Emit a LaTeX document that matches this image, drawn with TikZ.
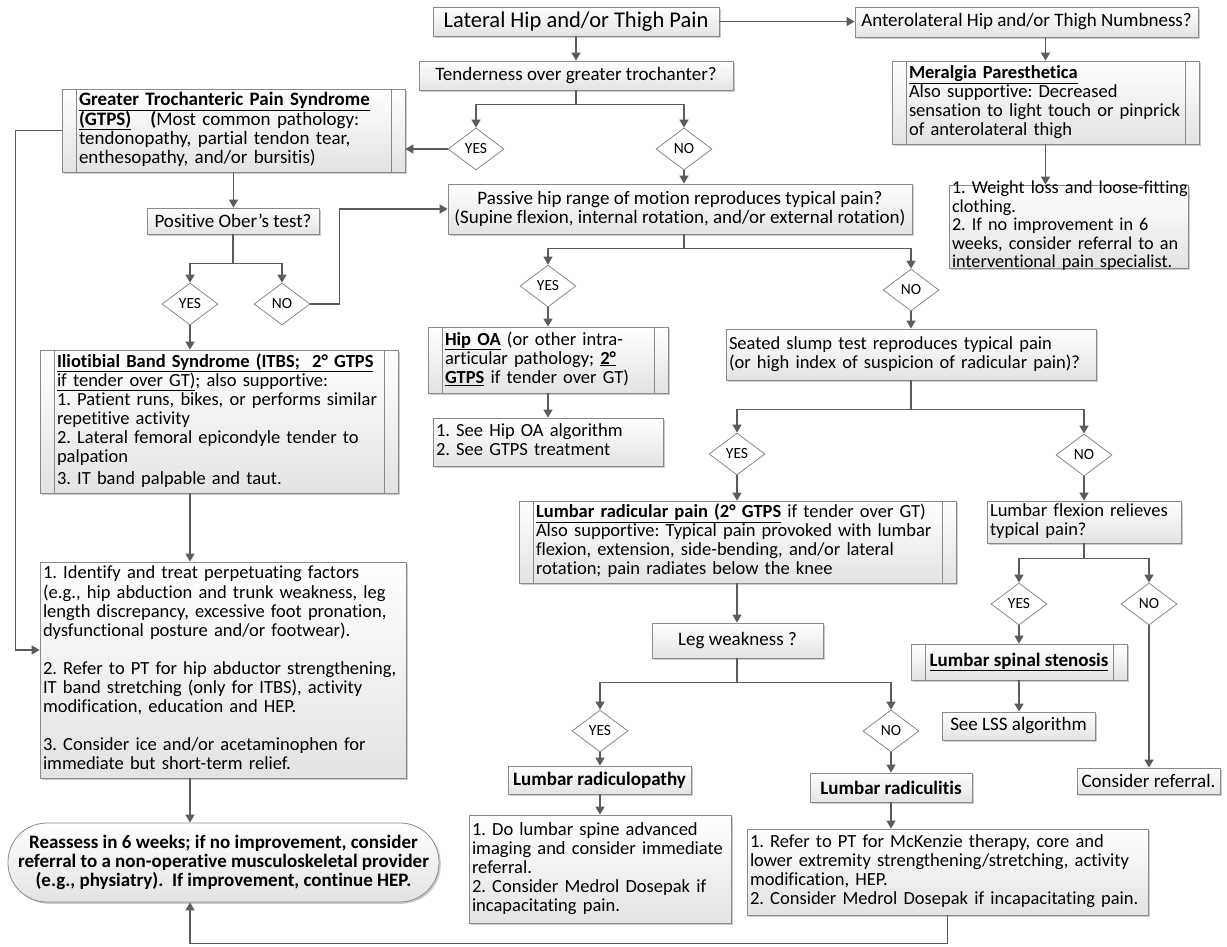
\documentclass[tikz,border=0pt]{standalone}
\usepackage{fontspec}
\setmainfont{Carlito}[Ligatures=NoCommon]
\usetikzlibrary{arrows.meta,shapes.geometric,shadows}

\definecolor{linec}{HTML}{5C5C5C}
\definecolor{edgec}{HTML}{8A8A8A}
\definecolor{shadec}{HTML}{E3E3E3}

\newcommand\bodysize{\fontsize{19}{19}\selectfont}
\newcommand\leftsize{\fontsize{18.5}{19}\selectfont}
\newcommand\titlesize{\fontsize{22.5}{24}\selectfont}
\newcommand\tagsize{\fontsize{15.5}{17}\selectfont}
% left-aligned block of explicit lines, centred vertically, not counted in the box size
\newcommand\lines[1]{\noindent\smash{\raisebox{-4.75pt}{\begin{tabular}{@{}l@{}}#1\end{tabular}}}}

\tikzset{
  bx/.style={draw=edgec, line width=0.8pt, top color=white, bottom color=shadec,
    inner xsep=3pt, inner ysep=0pt, font=\leftsize, align=left,
    drop shadow={shadow xshift=1.8pt, shadow yshift=-1.8pt, fill=black, opacity=0.2}},
  ctr/.style={bx, align=center, font=\bodysize},
  pp/.style={bx, inner xsep=17pt, path picture={
      \draw[edgec, line width=0.8pt]
        ([xshift=14pt]path picture bounding box.north west) -- ([xshift=14pt]path picture bounding box.south west)
        ([xshift=-14pt]path picture bounding box.north east) -- ([xshift=-14pt]path picture bounding box.south east);}},
  dia/.style={diamond, draw=edgec, line width=0.8pt, fill=white, minimum width=56pt,
    minimum height=42pt, inner sep=0pt, font=\tagsize},
  conn/.style={draw=linec, line width=1.5pt, -{Triangle[length=8pt,width=9pt]}},
  endbox/.style={bx, align=center, rounded corners=39pt, font=\bodysize\bfseries}
}

\begin{document}
\frenchspacing
\begin{tikzpicture}[x=1pt,y=-1pt]
\fill[white] (0,0) rectangle (1227,946);
\useasboundingbox (0,0) rectangle (1227,946);

% ---------- top row ----------
\node[ctr, font=\titlesize, minimum width=286, minimum height=29] (title) at (576,21.5) {Lateral Hip and/or Thigh Pain};
\node[ctr, minimum width=343, minimum height=30] (antero) at (1026.5,22) {Anterolateral Hip and/or Thigh Numbness?};
\node[ctr, minimum width=314, minimum height=29] (tender) at (576,75.5) {Tenderness over greater trochanter?};

\node[pp, minimum width=307, minimum height=83, text width=273] (meral) at (1045.5,102.5) {\lines{%
\underline{\textbf{Meralgia Paresthetica}}\\
Also supportive: Decreased\\
sensation to light touch or pinprick\\
of anterolateral thigh}};
\node[bx, font=\fontsize{18.2}{18.6}\selectfont, minimum width=239, minimum height=83, text width=233] (weight) at (1068.5,226.5) {\lines{%
1. Weight loss and loose-fitting\\
clothing.\\
2. If no improvement in 6\\
weeks, consider referral to an\\
interventional pain specialist.}};

% ---------- left branch ----------
\node[dia] (yes1) at (476,149) {YES};
\node[dia] (no1) at (684,149) {NO};
\node[pp, font=\bodysize, minimum width=343, minimum height=83, text width=309] (gtps) at (233.5,130.5) {\lines{%
\underline{\textbf{Greater Trochanteric Pain Syndrome}}\\
\underline{\textbf{(GTPS)}}\quad\textbf{(}Most common pathology:\\
tendonopathy, partial tendon tear,\\
enthesopathy, and/or bursitis)}};
\node[ctr, minimum width=172, minimum height=26] (ober) at (233,221) {Positive Ober’s test?};
\node[dia] (yes2) at (190,304) {YES};
\node[dia] (no2) at (282,304) {NO};
\node[pp, minimum width=358, minimum height=143, text width=324] (itbs) at (219,421.5) {\lines{%
\underline{\textbf{Iliotibial Band Syndrome (ITBS;\ \ 2° GTPS}}\\
\underline{if tender over GT)}; also supportive:\\
1. Patient runs, bikes, or performs similar\\
repetitive activity\\
2. Lateral femoral epicondyle tender to\\
palpation\\[3pt]
3. IT band palpable and taut.}};
\node[bx, minimum width=366, minimum height=216, text width=360] (treat) at (223,670) {\lines{%
1. Identify and treat perpetuating factors\\
(e.g., hip abduction and trunk weakness, leg\\
length discrepancy, excessive foot pronation,\\
dysfunctional posture and/or footwear).\\
\\
2. Refer to PT for hip abductor strengthening,\\
IT band stretching (only for ITBS), activity\\
modification, education and HEP.\\
\\
3. Consider ice and/or acetaminophen for\\
immediate but short-term relief.}};
\node[endbox, minimum width=431, minimum height=79] (reassess) at (223.5,862.5) {%
Reassess in 6 weeks; if no improvement, consider\\
referral to a non-operative musculoskeletal provider\\
(e.g., physiatry).\ \ If improvement, continue HEP.};

% ---------- middle branch ----------
\node[ctr, minimum width=464, minimum height=50] (passive) at (680,209) {%
Passive hip range of motion reproduces typical pain?\\
(Supine flexion, internal rotation, and/or external rotation)};
\node[dia] (yes3) at (548,286) {YES};
\node[dia] (no3) at (911,290) {NO};
\node[pp, minimum width=240, minimum height=66, text width=206] (hipoa) at (548,360) {\lines{%
\underline{\textbf{Hip OA}} (or other intra-\\
articular pathology; \underline{\textbf{2°}}\\
\underline{\textbf{GTPS}} if tender over GT)}};
\node[bx, minimum width=230, minimum height=48, text width=224] (hipoatx) at (548,442) {\lines{%
1. See Hip OA algorithm\\
2. See GTPS treatment}};
\node[bx, minimum width=370, minimum height=51, text width=364] (seated) at (911,354.5) {\lines{%
Seated slump test reproduces typical pain\\
(or high index of suspicion of radicular pain)?}};
\node[dia] (yes4) at (737,454) {YES};
\node[dia] (no4) at (1084,455) {NO};
\node[pp, minimum width=437, minimum height=82, text width=403] (radic) at (737.5,542) {\lines{%
\underline{\textbf{Lumbar radicular pain (2° GTPS}} if tender over GT)\\
Also supportive: Typical pain provoked with lumbar\\
flexion, extension, side-bending, and/or lateral\\
rotation; pain radiates below the knee}};
\node[ctr, minimum width=171, minimum height=35] (leg) at (737.5,640.5) {Leg weakness ?};
\node[dia] (yes6) at (600,731) {YES};
\node[dia] (no6) at (891,731) {NO};
\node[ctr, font=\bodysize\bfseries, minimum width=183, minimum height=28] (rpathy) at (599.5,780) {Lumbar radiculopathy};
\node[bx, minimum width=262, minimum height=108, text width=256] (rpathytx) at (600,869) {\lines{%
1. Do lumbar spine advanced\\
imaging and consider immediate\\
referral.\\
2. Consider Medrol Dosepak if\\
incapacitating pain.}};
\node[ctr, font=\bodysize\bfseries, minimum width=162, minimum height=29] (ritis) at (891,787.5) {Lumbar radiculitis};
\node[bx, minimum width=401, minimum height=86, text width=395] (ritistx) at (947.5,872) {\lines{%
1. Refer to PT for McKenzie therapy, core and\\
lower extremity strengthening/stretching, activity\\
modification, HEP.\\
2. Consider Medrol Dosepak if incapacitating pain.}};

% ---------- right branch ----------
\node[bx, minimum width=194, minimum height=42, text width=188] (flex) at (1084,522) {\lines{%
Lumbar flexion relieves\\
typical pain?}};
\node[dia] (yes5) at (1019,604) {YES};
\node[dia] (no5) at (1149,604) {NO};
\node[pp, align=center, font=\bodysize, minimum width=216, minimum height=36] (lss) at (1019,662) {\underline{\textbf{Lumbar spinal stenosis}}};
\node[ctr, minimum width=153, minimum height=28] (lsstx) at (1018.5,726) {See LSS algorithm};
\node[ctr, minimum width=143, minimum height=26] (refer) at (1148.5,781) {Consider referral.};

% ---------- connectors ----------
\draw[conn] (title.east) -- (title.east -| antero.west);
\draw[conn] (meral.north |- antero.south) -- (meral.north);
\draw[conn] (meral.south) -- (meral.south |- weight.north);
\draw[conn] (title.south) -- (tender.north);
\draw[conn] (tender.south) -- ++(0,14) -| (yes1.north);
\draw[conn] (tender.south) -- ++(0,14) -| (no1.north);
\draw[conn] (yes1.west) -- (yes1.west -| gtps.east);
\draw[conn] (no1.south) -- (no1.south |- passive.north);
\draw[conn] (gtps.south) -- (gtps.south |- ober.north);
\draw[conn] (ober.south) -- ++(0,29) -| (yes2.north);
\draw[conn] (ober.south) -- ++(0,29) -| (no2.north);
\draw[conn] (yes2.south) -- (yes2.south |- itbs.north);
\draw[conn] (no2.east) -- ++(29,0) |- (passive.west);
\draw[conn] (gtps.west) -- ++(-46,0) |- ([yshift=20pt]treat.west);
\draw[conn] (yes2.south |- itbs.south) -- (yes2.south |- treat.north);
\draw[conn] (yes2.south |- treat.south) -- (yes2.south |- reassess.north);
\draw[conn] (ritistx.south) -- ++(0,28) -| (yes2.south |- reassess.south);

\draw[conn] (no1.south |- passive.south) -- ++(0,14) -| (yes3.north);
\draw[conn] (no1.south |- passive.south) -- ++(0,14) -| (no3.north);
\draw[conn] (yes3.south) -- (yes3.south |- hipoa.north);
\draw[conn] (hipoa.south) -- (hipoa.south |- hipoatx.north);
\draw[conn] (no3.south) -- (no3.south |- seated.north);
\draw[conn] (seated.south) -- ++(0,29) -| (yes4.north);
\draw[conn] (seated.south) -- ++(0,29) -| (no4.north);
\draw[conn] (yes4.south) -- (yes4.south |- radic.north);
\draw[conn] (no4.south) -- (no4.south |- flex.north);
\draw[conn] (flex.south) -- ++(0,15) -| (yes5.north);
\draw[conn] (flex.south) -- ++(0,15) -| (no5.north);
\draw[conn] (yes5.south) -- (yes5.south |- lss.north);
\draw[conn] (lss.south) -- (lss.south |- lsstx.north);
\draw[conn] (no5.south) -- (no5.south |- refer.north);
\draw[conn] (yes4.south |- radic.south) -- (yes4.south |- leg.north);
\draw[conn] (yes4.south |- leg.south) -- ++(0,24) -| (yes6.north);
\draw[conn] (yes4.south |- leg.south) -- ++(0,24) -| (no6.north);
\draw[conn] (yes6.south) -- (yes6.south |- rpathy.north);
\draw[conn] (yes6.south |- rpathy.south) -- (yes6.south |- rpathytx.north);
\draw[conn] (no6.south) -- (no6.south |- ritis.north);
\draw[conn] (ritis.south) -- (ritis.south |- ritistx.north);
\end{tikzpicture}
\end{document}
